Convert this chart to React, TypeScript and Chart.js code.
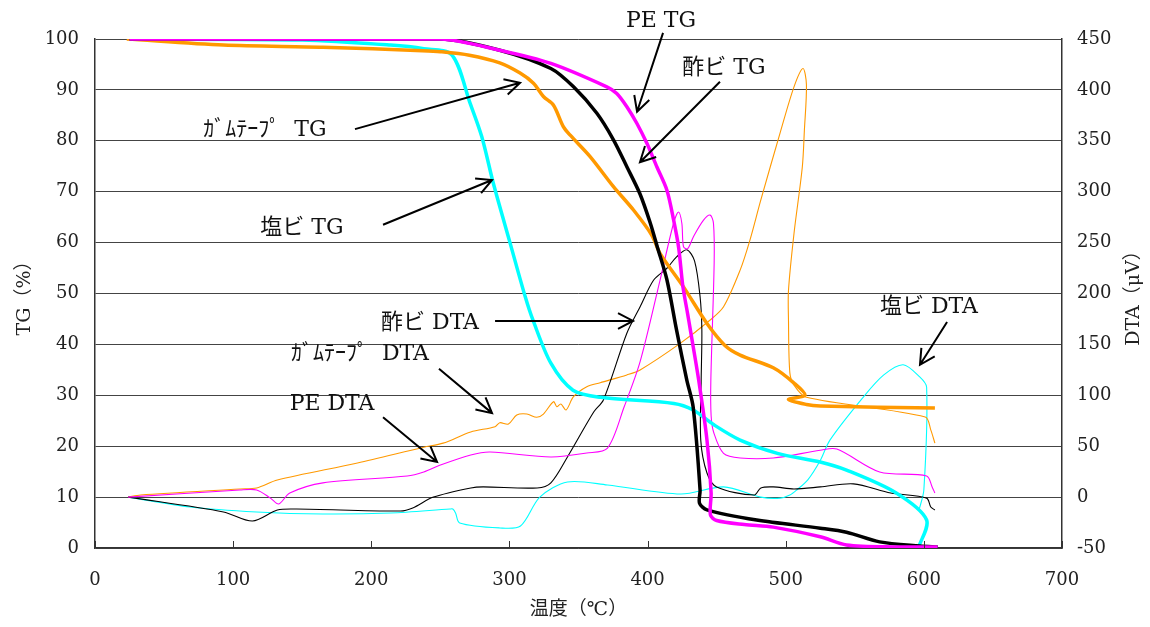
import React, { useEffect, useRef } from "react";
import { Chart, registerables } from "chart.js";

Chart.register(...registerables);

// ---- data: [temperature °C, value] ----
const peTG: number[][] = [
  [25, 100], [250, 100], [293, 97.8], [330, 95.2], [370.5, 90.6], [377.7, 89.3], [385, 86.7],
  [392.3, 83.4], [399.5, 79.5], [406.7, 74.9], [414, 70.3], [418.8, 64.5], [422.5, 59], [425.5, 51.5],
  [429, 46], [431, 42.8], [437, 33], [443, 21.2], [446, 10.8], [445.5, 6.5], [450, 5.4], [470, 4.6],
  [491, 4.1], [525, 2.2], [544, 0.6], [580, 0.2], [610, 0.2],
];
const vaTG: number[][] = [
  [25, 100], [250, 100], [293, 97.8], [330, 94.2], [346.4, 90.6], [363.3, 85.4], [375.3, 80.2],
  [385, 74.9], [394.6, 69.5], [402, 63.8], [407, 59.2], [414, 52.7], [421, 42.8], [428.4, 33],
  [433, 27.7], [438, 11.4], [437.6, 8.8], [443, 7.5], [479, 5.5], [525, 3.9], [544, 3.1], [568, 1.2],
  [597, 0.4], [610, 0.2],
];
const gumTG: number[][] = [
  [23, 100], [93, 98.8], [165, 98.4], [237, 97.7], [250, 97.5], [271, 96.8], [293, 95.3], [307.7, 93.3],
  [317.4, 91.3], [324.6, 88.7], [331.9, 87], [339, 82.8], [344, 81.1], [358.4, 76.9], [375.3, 71],
  [389.8, 66.4], [403, 61.5], [409, 57.9], [426, 51.3], [443, 44.1], [456, 39.8], [467, 37.9],
  [491, 35.4], [506, 32.4], [514, 30], [502, 29.2], [515, 28.2], [525, 27.9], [608, 27.5],
];
const pvcTG: number[][] = [
  [25, 100], [150, 99.8], [214, 98.8], [238, 98.1], [258.3, 96.9], [271.5, 87.4], [280, 80.8],
  [288.4, 71.6], [300.5, 59.9], [311.4, 49.4], [317, 44.8], [330, 36.3], [346, 31], [366, 29.6],
  [419, 28.4], [433, 27.1], [448, 24.2], [467, 21.2], [494, 18.6], [525, 16.9], [544, 15.3],
  [580, 10.8], [602, 5.5], [596, 0],
];

const peDTA: number[][] = [
  [24, 0], [105, 7], [117, 7], [127, -1], [133, -6.8], [141, 4], [165, 14], [226, 20.7], [238, 24.7],
  [250, 31.5], [272, 41.4], [286, 44.3], [330, 39.4], [356, 43.3], [371, 48.2], [383, 88.5],
  [394.6, 133], [409, 213], [418.8, 269], [422.4, 280], [424.8, 269], [426, 246], [429, 244],
  [433.2, 255.8], [440.5, 272], [445.3, 277], [447.7, 269], [448.2, 230], [445.8, 115], [446, 80],
  [448, 63], [455, 43], [467, 38.4], [491, 38.4], [525, 46], [537, 47.2], [568, 24.7], [602, 20.7],
  [606, 10], [608, 4],
];
const vaDTA: number[][] = [
  [24, 0], [93, -14.6], [114, -23.5], [132, -12.7], [146, -11.7], [221, -13.7], [230, -10.7], [245, 0],
  [272, 9], [281, 10], [320, 9], [330, 14], [342, 39.4], [361, 83.6], [368, 95.4], [385, 161],
  [394.6, 187], [404.3, 213], [414, 224.8], [421, 236], [428.4, 243], [434, 232], [438, 197],
  [439.3, 164], [438.8, 115], [438.5, 56], [443, 23.7], [450, 10], [477, 2], [482, 9], [491, 10],
  [506, 8], [525, 10], [549, 13], [576, 4], [602, -1], [605, -9.7], [608, -12.7],
];
const gumDTA: number[][] = [
  [24, 0], [33, 2], [105, 8], [117, 9], [132, 16.8], [190, 33.5], [238, 49], [252, 53], [272, 64],
  [289.6, 69.2], [293, 73.1], [299.3, 71.8], [305.3, 80.6], [312.6, 81.6], [319.8, 78.4], [324.6, 81.6],
  [331.9, 93.7], [334.3, 88.8], [337.2, 91.5], [341, 85.6], [346.4, 98.6], [356, 108.4], [365.7, 112.4],
  [385, 120], [394.6, 124.9], [423.6, 151], [445.3, 174], [455, 187], [467, 223], [474, 252],
  [482, 292], [496, 358], [506, 403], [512.5, 421], [515, 405], [513.5, 360], [512, 324], [506, 259],
  [502, 203], [502, 174], [503, 122], [506, 110], [515, 98], [601, 78.7], [605, 66], [608, 53],
];
const pvcDTA: number[][] = [
  [24, 0], [69, -9.7], [117, -14.6], [165, -16.6], [214, -15.6], [257, -11.7], [259, -11.7],
  [261, -15.6], [264, -25.4], [293, -30.3], [308, -28.4], [322, 0], [342, 14.8], [371, 11.9],
  [424, 3], [455, 10], [482, 0], [496, -1], [503, 2], [508, 7], [516, 17], [525, 36], [532, 56],
  [556, 98], [571, 120], [585, 130], [597, 118], [602, 108], [600, 7], [596.5, -12.7],
];

// ---- axis settings ----
const xMin = 0, xMax = 700, xStep = 100;
const tgMin = 0, tgMax = 100, tgStep = 10;
const dtaMin = -50, dtaMax = 450, dtaStep = 50;

const xTitle = "温度（℃）";
const tgTitle = "TG（%）";
const dtaTitle = "DTA（μV）";

// ---- annotations (data coordinates on the temperature / TG axes) ----
const noteTexts = ["PE TG", "酢ビ TG", "ｶﾞﾑﾃｰﾌﾟ  TG", "塩ビ TG", "酢ビ DTA", "ｶﾞﾑﾃｰﾌﾟ  DTA", "PE DTA", "塩ビ DTA"];
const noteTextAt: number[][] = [
  [409.7, 103.5], [455.3, 94.3], [123, 82.1], [149.8, 62.9], [242.5, 44.2], [191.8, 38.1], [171.6, 28.3], [603.7, 47.3],
];
const noteArrows: number[][] = [
  [411.2, 101.2, 392.4, 85.7],
  [452.4, 91.6, 394.5, 75.8],
  [188.2, 82.3, 307.7, 91.4],
  [208.5, 63.5, 287.4, 72.3],
  [289.6, 44.6, 389.5, 44.6],
  [249, 35.2, 287.4, 26.5],
  [208.5, 25.7, 247.6, 16.9],
  [616.8, 44.4, 597.2, 36],
];

const FONT = "'DejaVu Serif', 'Noto Sans CJK JP', serif";

const toXY = (arr: number[][]) => arr.map(([x, y]) => ({ x, y }));

const overlay = {
  id: "overlay",
  afterDraw(chart: any) {
    const { ctx, chartArea } = chart;
    const xs = chart.scales.x;
    const ys = chart.scales.y;
    ctx.save();
    // inward x ticks
    ctx.strokeStyle = "#333";
    ctx.lineWidth = 1;
    for (let v = xMin; v <= xMax; v += xStep) {
      const px = Math.round(xs.getPixelForValue(v)) + 0.5;
      ctx.beginPath();
      ctx.moveTo(px, chartArea.bottom);
      ctx.lineTo(px, chartArea.bottom - 7);
      ctx.stroke();
    }
    // annotations
    ctx.fillStyle = "#111";
    ctx.textAlign = "center";
    ctx.textBaseline = "middle";
    ctx.font = `22px ${FONT}`;
    noteTexts.forEach((t, i) => {
      const [tx, ty] = noteTextAt[i];
      ctx.fillText(t, xs.getPixelForValue(tx), ys.getPixelForValue(ty));
    });
    ctx.strokeStyle = "#000";
    ctx.lineWidth = 2;
    noteArrows.forEach(([x0, y0, x1, y1]) => {
      const ax = xs.getPixelForValue(x0), ay = ys.getPixelForValue(y0);
      const bx = xs.getPixelForValue(x1), by = ys.getPixelForValue(y1);
      const ang = Math.atan2(by - ay, bx - ax);
      const L = 17, spread = Math.PI / 6.5;
      ctx.beginPath();
      ctx.moveTo(ax, ay);
      ctx.lineTo(bx, by);
      ctx.moveTo(bx - L * Math.cos(ang - spread), by - L * Math.sin(ang - spread));
      ctx.lineTo(bx, by);
      ctx.lineTo(bx - L * Math.cos(ang + spread), by - L * Math.sin(ang + spread));
      ctx.stroke();
    });
    // axis titles
    ctx.font = `19px ${FONT}`;
    ctx.fillStyle = "#222";
    const midY = (chartArea.top + chartArea.bottom) / 2;
    ctx.fillText(xTitle, (chartArea.left + chartArea.right) / 2, 610);
    ctx.save();
    ctx.translate(25, midY);
    ctx.rotate(-Math.PI / 2);
    ctx.fillText(tgTitle, 0, 0);
    ctx.restore();
    ctx.save();
    ctx.translate(1134, midY);
    ctx.rotate(-Math.PI / 2);
    ctx.fillText(dtaTitle, 0, 0);
    ctx.restore();
    ctx.restore();
  },
};

export default function App() {
  const ref = useRef<HTMLCanvasElement | null>(null);
  useEffect(() => {
    if (!ref.current) return;
    const tg = (label: string, data: number[][], color: string) => ({
      label, data: toXY(data), borderColor: color, backgroundColor: color, borderWidth: 3.5,
      showLine: true, pointRadius: 0, tension: 0.3, yAxisID: "y",
    });
    const dta = (label: string, data: number[][], color: string) => ({
      label, data: toXY(data), borderColor: color, backgroundColor: color, borderWidth: 1.1,
      showLine: true, pointRadius: 0, tension: 0.3, yAxisID: "y2",
    });
    const tickFont = { family: FONT, size: 18 };
    const chart = new Chart(ref.current, {
      type: "scatter",
      data: {
        datasets: [
          tg("PE TG", peTG, "#ff00ff"),
          tg("酢ビ TG", vaTG, "#000000"),
          tg("ガムテープ TG", gumTG, "#ff9900"),
          tg("塩ビ TG", pvcTG, "#00ffff"),
          dta("PE DTA", peDTA, "#ff00ff"),
          dta("酢ビ DTA", vaDTA, "#000000"),
          dta("ガムテープ DTA", gumDTA, "#ff9900"),
          dta("塩ビ DTA", pvcDTA, "#00ffff"),
        ] as any,
      },
      options: {
        animation: false,
        responsive: false,
        devicePixelRatio: 1,
        layout: { padding: { top: 39, left: 0, right: 0, bottom: 0 } },
        plugins: { legend: { display: false }, tooltip: { enabled: false } },
        scales: {
          x: {
            type: "linear", min: xMin, max: xMax,
            ticks: { stepSize: xStep, font: tickFont, color: "#222", padding: 22, maxRotation: 0 },
            grid: { display: false, drawTicks: false },
            border: { display: true, color: "#333", width: 1.5 },
            afterFit: (s: any) => { s.height = 79; },
          },
          y: {
            type: "linear", position: "left", min: tgMin, max: tgMax,
            ticks: { stepSize: tgStep, font: tickFont, color: "#222", padding: 16 },
            grid: { color: "#444", lineWidth: 1, drawTicks: false },
            border: { display: true, color: "#333", width: 1.5 },
            afterFit: (s: any) => { s.width = 95; },
          },
          y2: {
            type: "linear", position: "right", min: dtaMin, max: dtaMax,
            ticks: { stepSize: dtaStep, font: tickFont, color: "#222", padding: 15 },
            grid: { drawOnChartArea: false, drawTicks: false },
            border: { display: true, color: "#333", width: 1.5 },
            afterFit: (s: any) => { s.width = 88; },
          },
        },
      } as any,
      plugins: [overlay],
    });
    return () => chart.destroy();
  }, []);
  return (
    <div style={{ position: "fixed", left: 0, top: 0, width: 1150, height: 627, background: "#fff" }}>
      <canvas ref={ref} width={1150} height={627} />
    </div>
  );
}
